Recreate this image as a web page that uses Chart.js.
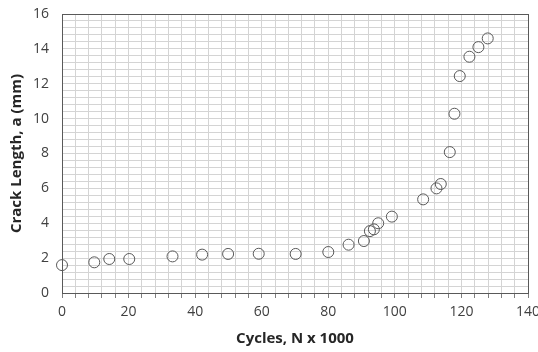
<!DOCTYPE html>
<html>
<head>
<meta charset="utf-8">
<script src="https://cdn.jsdelivr.net/npm/chart.js@4"></script>
<style>
  html, body { margin: 0; padding: 0; background: #fff; }
  #wrap { width: 538px; height: 352px; }
</style>
</head>
<body>
<div id="wrap"><canvas id="crackChart" width="538" height="352"></canvas></div>
<script>
// cycles (x 1000) and crack length (mm)
var cycles = [0, 9.7, 14.2, 20.2, 33.2, 42.1, 49.9, 59.1, 70.2, 80.0, 86.1, 90.7, 92.5, 93.7, 95.0, 99.1,
              108.5, 112.5, 113.8, 116.5, 117.9, 119.5, 122.4, 125.1, 127.9];
var crackLength = [1.6, 1.76, 1.95, 1.95, 2.1, 2.2, 2.24, 2.25, 2.24, 2.35, 2.77, 2.98, 3.55, 3.65, 4.0, 4.38,
                   5.37, 6.0, 6.25, 8.08, 10.28, 12.44, 13.55, 14.1, 14.6];
var xTickLabels = [0, 20, 40, 60, 80, 100, 120, 140];
var yTickLabels = [0, 2, 4, 6, 8, 10, 12, 14, 16];

document.addEventListener('DOMContentLoaded', function() {
    var ctx = document.getElementById('crackChart').getContext('2d');
    var points = [];
    for (var i = 0; i < cycles.length; i++) {
        points.push({ x: cycles[i], y: crackLength[i] });
    }

    function isLabel(list, v) {
        for (var j = 0; j < list.length; j++) {
            if (Math.abs(list[j] - v) < 1e-6) return true;
        }
        return false;
    }

    var gridGrey = '#d4d4d4';
    var edgeGrey = '#595959';

    new Chart(ctx, {
        type: 'scatter',
        data: {
            datasets: [{
                label: 'Crack length',
                data: points,
                pointStyle: 'circle',
                pointRadius: 5.5,
                pointHoverRadius: 5.5,
                backgroundColor: 'rgba(0,0,0,0)',
                borderColor: '#595959',
                borderWidth: 1,
                clip: false
            }]
        },
        options: {
            responsive: false,
            animation: false,
            events: [],
            layout: { padding: { left: 4, top: 14, right: 10, bottom: 0 } },
            plugins: { legend: { display: false }, tooltip: { enabled: false } },
            scales: {
                x: {
                    type: 'linear',
                    min: 0,
                    max: 140,
                    ticks: {
                        stepSize: 4,
                        autoSkip: false,
                        maxRotation: 0,
                        padding: 6,
                        color: '#404040',
                        font: { family: 'Open Sans', size: 14 },
                        callback: function(v) { return isLabel(xTickLabels, v) ? String(v) : ''; }
                    },
                    grid: {
                        color: function(c) { return c.tick && c.tick.value === 140 ? edgeGrey : gridGrey; },
                        drawTicks: true,
                        tickLength: 5,
                        tickColor: '#7f7f7f'
                    },
                    border: { color: edgeGrey, width: 1 },
                    title: {
                        display: true,
                        text: 'Cycles, N x 1000',
                        color: '#262626',
                        font: { family: 'Open Sans', size: 15, weight: 'bold' }
                    },
                    afterFit: function(scale) {
                        scale.height = 59;
                        scale.paddingLeft = 0;
                        scale.paddingRight = 0;
                    }
                },
                y: {
                    type: 'linear',
                    min: 0,
                    max: 16,
                    ticks: {
                        stepSize: 0.4,
                        autoSkip: false,
                        padding: 13,
                        color: '#404040',
                        font: { family: 'Open Sans', size: 14 },
                        callback: function(v) { return isLabel(yTickLabels, v) ? String(Math.round(v)) : ''; }
                    },
                    grid: {
                        color: function(c) { return c.tick && Math.abs(c.tick.value - 16) < 1e-6 ? edgeGrey : gridGrey; },
                        drawTicks: false
                    },
                    border: { color: edgeGrey, width: 1 },
                    title: {
                        display: true,
                        text: 'Crack Length, a (mm)',
                        color: '#262626',
                        font: { family: 'Open Sans', size: 15, weight: 'bold' }
                    },
                    afterFit: function(scale) {
                        scale.width = 58;
                        scale.paddingTop = 0;
                        scale.paddingBottom = 0;
                    }
                }
            }
        }
    });
});
</script>
</body>
</html>
